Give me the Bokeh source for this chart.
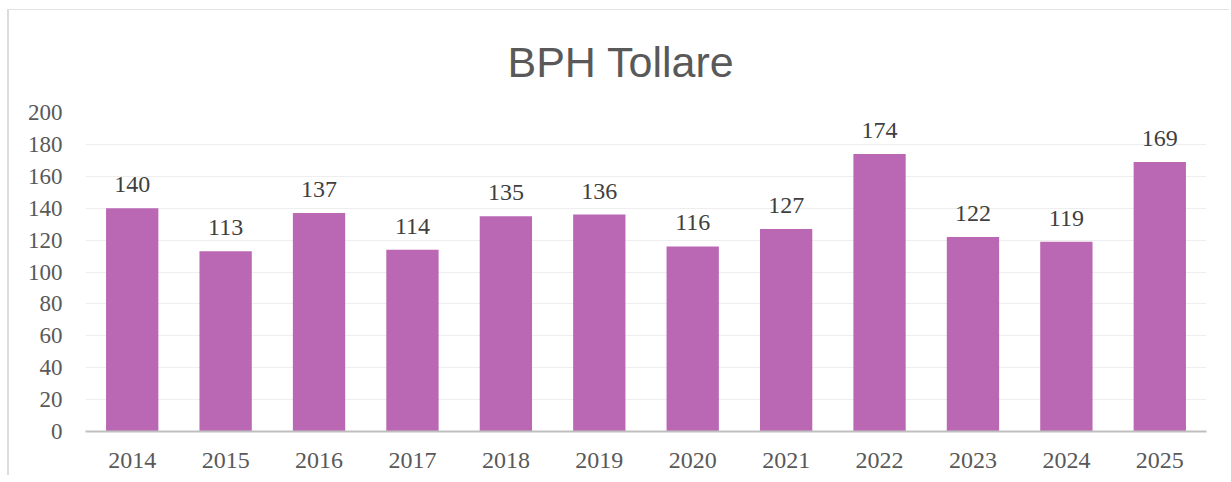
from bokeh.plotting import figure
from bokeh.models import Range1d, FixedTicker, ColumnDataSource, LabelSet, Title
from bokeh.embed import file_html
from bokeh.resources import INLINE

years = ["2014", "2015", "2016", "2017", "2018", "2019", "2020", "2021", "2022", "2023", "2024", "2025"]
values = [140, 113, 137, 114, 135, 136, 116, 127, 174, 122, 119, 169]
y_ticks = [0, 20, 40, 60, 80, 100, 120, 140, 160, 180, 200]
title_text = "BPH Tollare"

src = ColumnDataSource(dict(x=years, y=values, lab=[str(v) for v in values]))

p = figure(x_range=years, y_range=Range1d(0, 200), width=1222, height=466,
           output_backend="svg", toolbar_location=None,
           min_border_left=76, min_border_right=25, min_border_top=102, min_border_bottom=45)
p.x_range.range_padding = 0

p.add_layout(Title(text=title_text, align="left", vertical_align="top", text_font="Liberation Sans",
                   text_font_size="43px", text_font_style="normal", text_color="#595959",
                   standoff=50, offset=422), "above")

p.vbar(x="x", top="y", width=0.56, source=src, fill_color="#BA68B4", line_color=None)

labels = LabelSet(x="x", y="y", text="lab", source=src, y_offset=16, text_align="center",
                  text_baseline="alphabetic", text_font="Liberation Serif",
                  text_font_size="24px", text_color="#404040")
p.add_layout(labels)

p.background_fill_color = "white"
p.border_fill_color = "white"
p.outline_line_color = None

p.xgrid.grid_line_color = None
p.ygrid.grid_line_color = "#eeeeee"
p.ygrid.grid_line_width = 1

p.yaxis.ticker = FixedTicker(ticks=y_ticks)
p.yaxis.axis_line_color = None
p.yaxis.major_tick_line_color = None
p.yaxis.minor_tick_line_color = None
p.yaxis.major_tick_out = 0
p.yaxis.major_tick_in = 0
p.yaxis.major_label_standoff = 23
p.yaxis.major_label_text_font = "Liberation Serif"
p.yaxis.major_label_text_font_size = "23px"
p.yaxis.major_label_text_color = "#595959"

p.xaxis.axis_line_color = "#bfbfbf"
p.xaxis.axis_line_width = 2
p.xaxis.major_tick_line_color = None
p.xaxis.major_tick_out = 0
p.xaxis.major_tick_in = 0
p.xaxis.major_label_standoff = 21
p.xaxis.major_label_text_font = "Liberation Serif"
p.xaxis.major_label_text_font_size = "24px"
p.xaxis.major_label_text_color = "#595959"

p.styles = {"border-left": "2px solid #dcdcdc", "border-top": "1px solid #e2e2e2",
            "margin-left": "7px", "margin-top": "9px"}

open("out.html", "w").write(file_html(p, INLINE))
